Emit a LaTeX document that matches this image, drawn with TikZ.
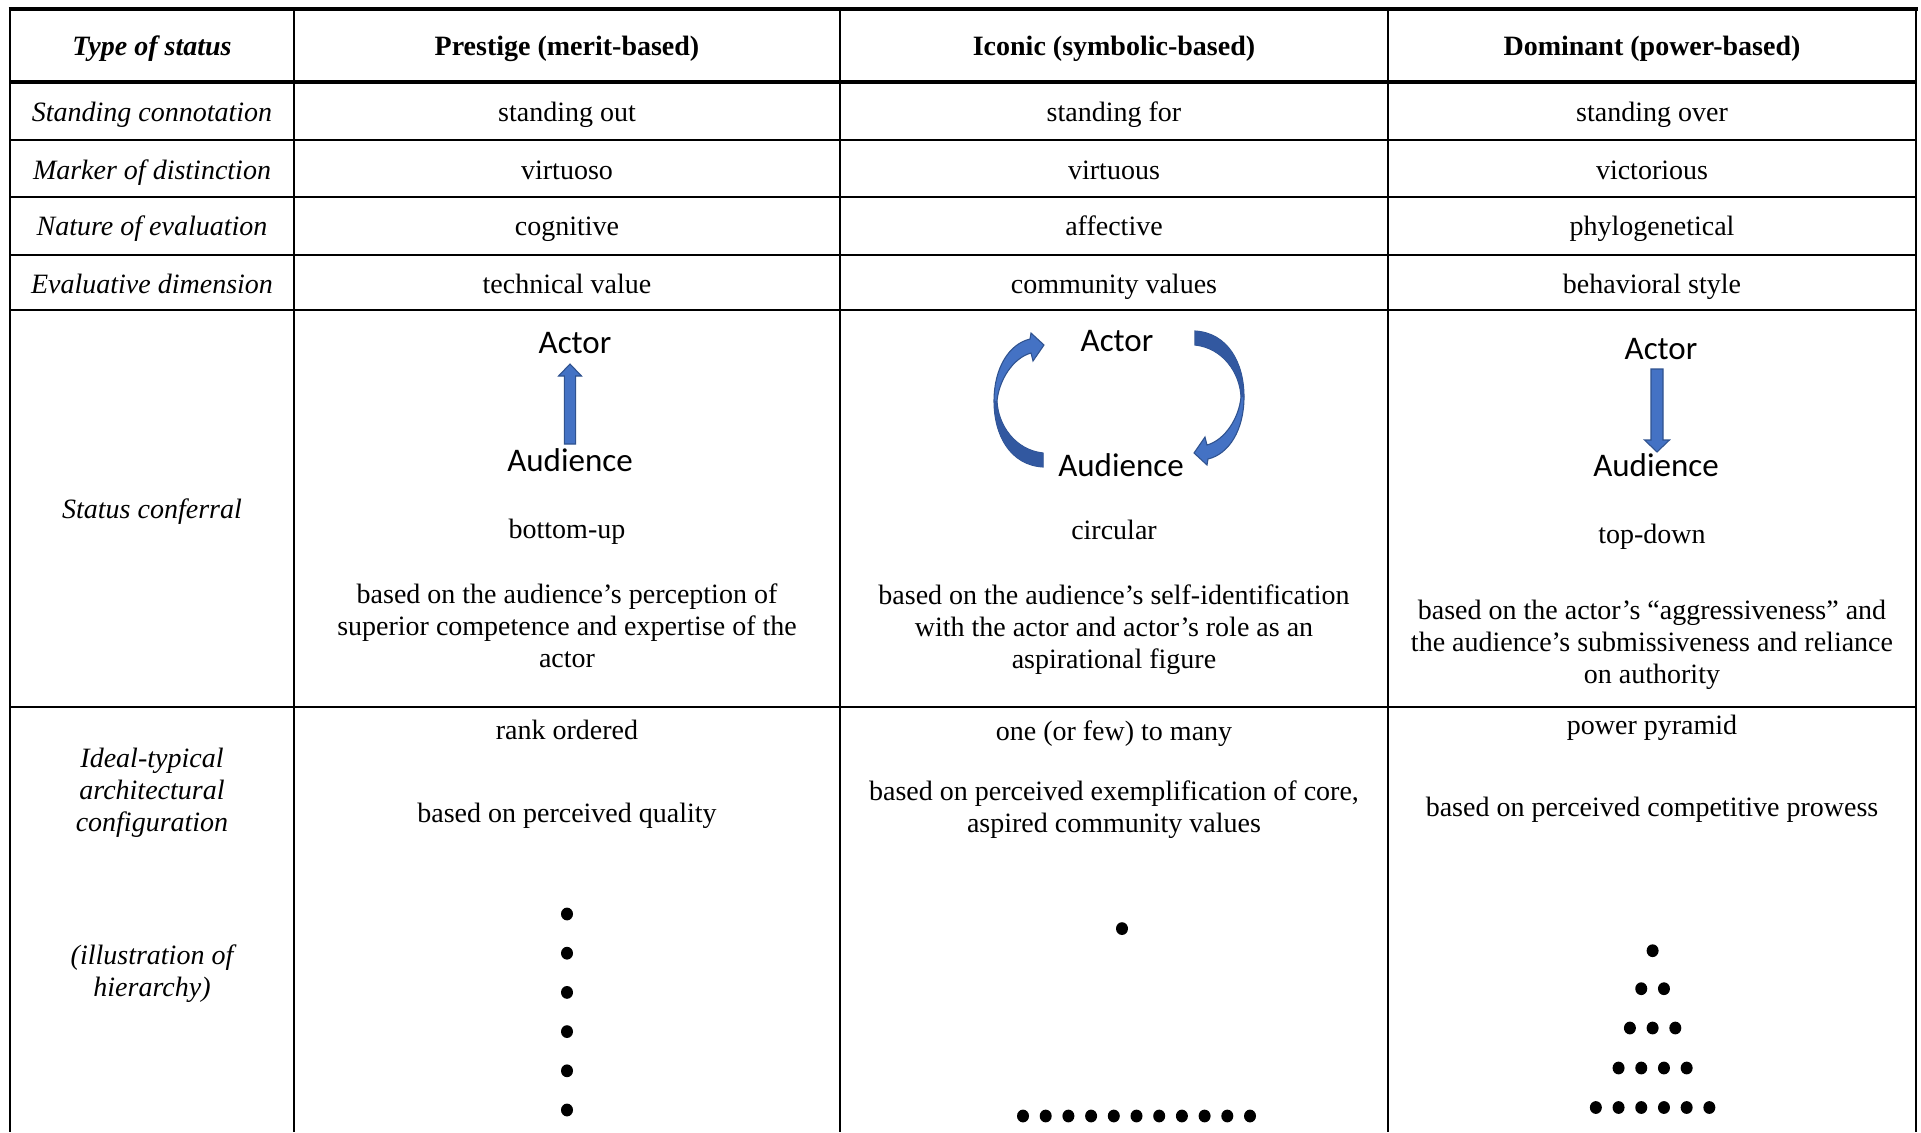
\documentclass[tikz,border=0pt]{standalone}
\usepackage{fontspec}
\setmainfont{Liberation Serif}
\newfontfamily\calibri{Carlito}
\usetikzlibrary{positioning}
\definecolor{arrowblue}{RGB}{68,114,196}
\definecolor{arrowdark}{RGB}{50,88,160}
\definecolor{arrowedge}{RGB}{47,82,143}

\begin{document}
\begin{tikzpicture}[x=0.75pt,y=0.75pt,yscale=-1,xscale=1,
	cell/.style={align=center,inner sep=0pt,font=\fontsize{21}{24}\selectfont},
	rowlab/.style={cell,font=\fontsize{21}{24}\selectfont\itshape},
	collab/.style={cell,font=\fontsize{21}{24}\selectfont\bfseries},
	party/.style={inner sep=0pt,font=\calibri\fontsize{24.75}{29}\selectfont},
	rule/.style={line width=1.3pt},
	heavy/.style={line width=3pt},
	blockarrow/.style={fill=arrowblue,draw=arrowedge,line width=0.8pt,line join=miter},
	backface/.style={fill=arrowdark},
	bullet/.style={fill=black}]
			\useasboundingbox (0,0) rectangle (1921,1132);
			\fill[white] (0,0) rectangle (1921,1132);
			% table rules
			\draw[heavy] (8.5,8.5) -- (1917.5,8.5);
			\draw[heavy] (10,82) -- (1916,82);
			\draw[rule] (10,140) -- (1916,140);
			\draw[rule] (10,197) -- (1916,197);
			\draw[rule] (10,255) -- (1916,255);
			\draw[rule] (10,310) -- (1916,310);
			\draw[rule] (10,707) -- (1916,707);
			\draw[rule] (10,8.5) -- (10,1132);
			\draw[rule] (294,8.5) -- (294,1132);
			\draw[rule] (840,8.5) -- (840,1132);
			\draw[rule] (1388,8.5) -- (1388,1132);
			\draw[rule] (1916,8.5) -- (1916,1132);
			
			% header row
			\draw (152,55.5) node (corner) [collab,anchor=base,font=\fontsize{21}{24}\selectfont\bfseries\itshape] {Type of status};
			\draw (567,55.5) node (prestige) [collab,anchor=base] {Prestige (merit-based)};
			\draw (1114,55.5) node (iconic) [collab,anchor=base] {Iconic (symbolic-based)};
			\draw (1652,55.5) node (dominant) [collab,anchor=base] {Dominant (power-based)};
			
			% short rows
			\draw (152,121.7) node (conn) [rowlab,anchor=base] {Standing connotation};
			\draw (567,121.7) node (connA) [cell,anchor=base] {standing out};
			\draw (1114,121.7) node (connB) [cell,anchor=base] {standing for};
			\draw (1652,121.7) node (connC) [cell,anchor=base] {standing over};
			\draw (152,179.3) node (mark) [rowlab,anchor=base] {Marker of distinction};
			\draw (567,179.3) node (markA) [cell,anchor=base] {virtuoso};
			\draw (1114,179.3) node (markB) [cell,anchor=base] {virtuous};
			\draw (1652,179.3) node (markC) [cell,anchor=base] {victorious};
			\draw (152,235.6) node (eval) [rowlab,anchor=base] {Nature of evaluation};
			\draw (567,235.6) node (evalA) [cell,anchor=base] {cognitive};
			\draw (1114,235.6) node (evalB) [cell,anchor=base] {affective};
			\draw (1652,235.6) node (evalC) [cell,anchor=base] {phylogenetical};
			\draw (152,293.2) node (dim) [rowlab,anchor=base] {Evaluative dimension};
			\draw (567,293.2) node (dimA) [cell,anchor=base] {technical value};
			\draw (1114,293.2) node (dimB) [cell,anchor=base] {community values};
			\draw (1652,293.2) node (dimC) [cell,anchor=base] {behavioral style};
			
			% status conferral row
			\draw (152,518.6) node (conf) [rowlab,anchor=base] {Status conferral};
			\draw (575,353.5) node (actA) [party,anchor=base] {Actor};
			\draw (570,471) node (audA) [party,anchor=base] {Audience};
			\draw[blockarrow] (564.3,444) -- (575.7,444) -- (575.7,376) -- (581.5,376) -- (570,364) -- (558.5,376) -- (564.3,376) -- cycle;
			\draw (567,538) node (upA) [cell,anchor=base] {bottom-up};
			\draw (567,625.9) node (paraA) [cell] {based on the audience’s perception of\\superior competence and expertise of the\\actor};
			
			\draw (1117,351) node (actB) [party,anchor=base] {Actor};
			\draw (1121,476) node (audB) [party,anchor=base] {Audience};
			\draw[blockarrow] (1043,467) .. controls (1010,465) and (994,435) .. (994,401) .. controls (994,368) and (1009,344) .. (1030,339) -- (1031,333) -- (1044,345) -- (1033,361) -- (1031,353) .. controls (1013,358) and (999,380) .. (997,401) .. controls (998,425) and (1015,450) .. (1043,453) -- cycle;
			\fill[backface] (1043,467) .. controls (1010,465) and (994,435) .. (994,401) -- (997,401) .. controls (998,425) and (1015,450) .. (1043,453) -- cycle;
			\begin{scope}[rotate around={180:(1119,399)}]
			\draw[blockarrow] (1043,467) .. controls (1010,465) and (994,435) .. (994,401) .. controls (994,368) and (1009,344) .. (1030,339) -- (1031,333) -- (1044,345) -- (1033,361) -- (1031,353) .. controls (1013,358) and (999,380) .. (997,401) .. controls (998,425) and (1015,450) .. (1043,453) -- cycle;
			\fill[backface] (1043,467) .. controls (1010,465) and (994,435) .. (994,401) -- (997,401) .. controls (998,425) and (1015,450) .. (1043,453) -- cycle;
			\end{scope}
			\draw (1114,539.5) node (circB) [cell,anchor=base] {circular};
			\draw (1114,629.8) node (paraB) [cell] {based on the audience’s self-identification\\with the actor and actor’s role as an\\aspirational figure};
			
			\draw (1661,359.5) node (actC) [party,anchor=base] {Actor};
			\draw (1656,476) node (audC) [party,anchor=base] {Audience};
			\draw[blockarrow] (1651,369) -- (1663,369) -- (1663,440) -- (1669.5,440) -- (1657,452) -- (1644.5,440) -- (1651,440) -- cycle;
			\draw (1652,543) node (downC) [cell,anchor=base] {top-down};
			\draw (1652,644.4) node (paraC) [cell] {based on the actor’s “aggressiveness” and\\the audience’s submissiveness and reliance\\on authority};
			
			% configuration row
			\draw (152,792.4) node (ideal) [rowlab] {Ideal-typical\\architectural\\configuration};
			\draw (152,974) node (illus) [rowlab] {(illustration of\\hierarchy)};
			\draw (567,739) node (rankA) [cell,anchor=base] {rank ordered};
			\draw (567,822.5) node (qualA) [cell,anchor=base] {based on perceived quality};
			\draw (1114,740.4) node (manyB) [cell,anchor=base] {one (or few) to many};
			\draw (1114,809.9) node (coreB) [cell] {based on perceived exemplification of core,\\aspired community values};
			\draw (1652,734) node (pyrC) [cell,anchor=base] {power pyramid};
			\draw (1652,816) node (prowC) [cell,anchor=base] {based on perceived competitive prowess};
			
			% hierarchy dots
			\foreach \y in {914,953.2,992.4,1031.6,1070.8,1110} \fill[bullet] (567,\y) ellipse (6 and 6.4);
			\fill[bullet] (1122,928.6) ellipse (6 and 6.4);
			\foreach \i in {0,...,10} \fill[bullet] (1023+22.7*\i,1116) ellipse (6 and 6.4);
			\fill[bullet] (1652.6,950.7) ellipse (6 and 6.4);
			\foreach \x in {-11.35,11.35} \fill[bullet] (1652.6+\x,988.7) ellipse (6 and 6.4);
			\foreach \x in {-22.7,0,22.7} \fill[bullet] (1652.6+\x,1028) ellipse (6 and 6.4);
			\foreach \x in {-34.05,-11.35,11.35,34.05} \fill[bullet] (1652.6+\x,1068) ellipse (6 and 6.4);
			\foreach \x in {-56.75,-34.05,-11.35,11.35,34.05,56.75} \fill[bullet] (1652.6+\x,1107.5) ellipse (6 and 6.4);
			\end{tikzpicture}
\end{document}
